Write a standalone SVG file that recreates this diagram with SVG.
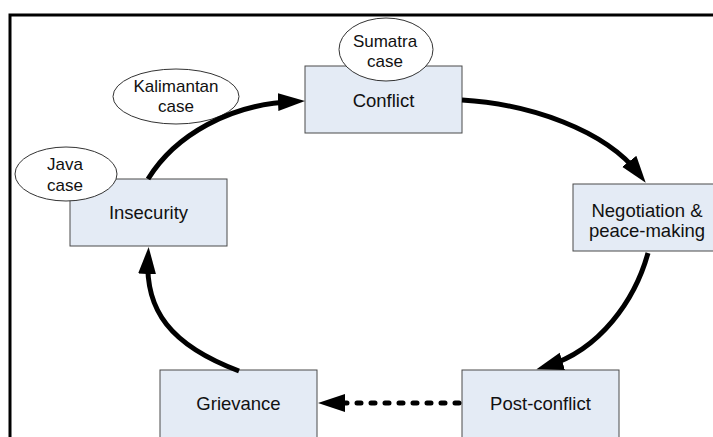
<svg xmlns="http://www.w3.org/2000/svg" width="713" height="437" viewBox="0 0 713 437">
  <style>
    .box { fill: #e4ebf5; stroke: #4a4a4a; stroke-width: 1; }
    .case { fill: #ffffff; stroke: #333333; stroke-width: 1; }
    .lbl { font-family: "Liberation Sans", Arial, sans-serif; font-size: 18.5px; fill: #111111; text-anchor: middle; }
    .clbl { font-family: "Liberation Sans", Arial, sans-serif; font-size: 17px; fill: #111111; text-anchor: middle; }
    .flow { fill: none; stroke: #000000; stroke-width: 5; }
    .dotted { fill: none; stroke: #000000; stroke-width: 5; stroke-linecap: round; stroke-dasharray: 4 10; }
    .frame { fill: none; stroke: #000000; stroke-width: 3; }
  </style>
  <defs>
    <marker id="head" markerUnits="userSpaceOnUse" markerWidth="28" markerHeight="20" viewBox="0 0 28 20" refX="16" refY="10" orient="auto">
      <path d="M0,1 L27,10 L0,19 z" fill="#000000"/>
    </marker>
  </defs>
  <rect width="713" height="437" fill="#ffffff"/>

  <!-- page frame -->
  <path class="frame" d="M10,437 L10,15 L713,15"/>

  <!-- nodes -->
  <g id="conflict">
    <rect class="box" x="305" y="66" width="157" height="67"/>
    <text class="lbl" x="383.5" y="107">Conflict</text>
  </g>
  <g id="negotiation">
    <rect class="box" x="573" y="184" width="157" height="67"/>
    <text class="lbl" x="647" y="217">Negotiation &amp;</text>
    <text class="lbl" x="647" y="237">peace-making</text>
  </g>
  <g id="post-conflict">
    <rect class="box" x="462" y="370" width="157" height="70"/>
    <text class="lbl" x="540.5" y="410">Post-conflict</text>
  </g>
  <g id="grievance">
    <rect class="box" x="160" y="370" width="157" height="70"/>
    <text class="lbl" x="238.5" y="410">Grievance</text>
  </g>
  <g id="insecurity">
    <rect class="box" x="70" y="179" width="157" height="67"/>
    <text class="lbl" x="148.5" y="219">Insecurity</text>
  </g>

  <!-- case labels -->
  <g id="sumatra-case">
    <ellipse class="case" cx="386" cy="49.5" rx="47" ry="31.5"/>
    <text class="clbl" x="385" y="46.5">Sumatra</text>
    <text class="clbl" x="385" y="66.5">case</text>
  </g>
  <g id="kalimantan-case">
    <ellipse class="case" cx="176" cy="96.5" rx="63" ry="27.5"/>
    <text class="clbl" x="176" y="91.5">Kalimantan</text>
    <text class="clbl" x="176" y="111.5">case</text>
  </g>
  <g id="java-case">
    <ellipse class="case" cx="66" cy="174" rx="51" ry="27"/>
    <text class="clbl" x="65" y="170">Java</text>
    <text class="clbl" x="65" y="191">case</text>
  </g>

  <!-- connectors -->
  <g id="connectors">
    <path class="flow" marker-end="url(#head)" d="M148,179 C175,135 230,104 294,101.5"/>
    <path class="flow" marker-end="url(#head)" d="M462,100 C530,104 605,130 639,174"/>
    <path class="flow" marker-end="url(#head)" d="M648,253 C635,300 600,350 547,366"/>
    <path class="flow" marker-end="url(#head)" d="M239,371 C170,345 145,310 148,258"/>
    <path class="dotted" marker-end="url(#head)" d="M459,403 L329,403"/>
  </g>
</svg>
